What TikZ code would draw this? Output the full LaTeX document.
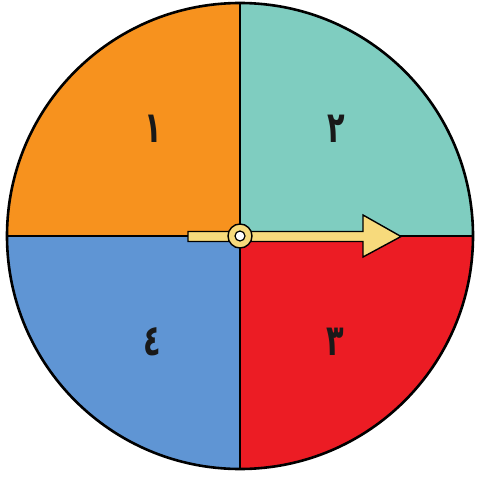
\documentclass[tikz,border=0pt]{standalone}
\usepackage{fontspec}
\usepackage{graphicx}
\usetikzlibrary{calc}
\newfontfamily\arabicfont[Script=Arabic]{DejaVu Sans}
\TeXXeTstate=1
\definecolor{qorange}{HTML}{F7921E}
\definecolor{qteal}{HTML}{7FCDC0}
\definecolor{qblue}{HTML}{5F95D4}
\definecolor{qred}{HTML}{EC1C24}
\definecolor{qyellow}{HTML}{F7DA7C}
\newcommand{\qdigit}[1]{\scalebox{0.8}[1.2]{\beginR #1\endR}}
\tikzset{
  digit/.style={font=\arabicfont\bfseries\fontsize{36}{36}\selectfont, text=black!90, inner sep=0pt},
  rim/.style={draw=black, line width=2.6pt},
  divider/.style={draw=black, line width=1.8pt}
}
\begin{document}
\begin{tikzpicture}[x=1pt,y=-1pt]
\useasboundingbox (0,0) rectangle (476,484);
\coordinate (c) at (240,236);
\def\R{233}
% quadrants (y axis points down, so angles run clockwise)
\fill[qorange] (c) -- ++(-\R,0) arc[start angle=180,end angle=270,radius=\R] -- cycle;
\fill[qteal] (c) -- ++(0,-\R) arc[start angle=270,end angle=360,radius=\R] -- cycle;
\fill[qred] (c) -- ++(\R,0) arc[start angle=0,end angle=90,radius=\R] -- cycle;
\fill[qblue] (c) -- ++(0,\R) arc[start angle=90,end angle=180,radius=\R] -- cycle;
% dividers
\draw[divider] ($(c)+(-\R,0)$) -- ($(c)+(\R,0)$);
\draw[divider] ($(c)+(0,-\R)$) -- ($(c)+(0,\R)$);
\draw[rim] (c) circle[radius=\R];
% digits
\node[digit] (d1) at (153,129) {\qdigit{١}};
\node[digit] (d2) at (336,129) {\qdigit{٢}};
\node[digit] (d4) at (152,342) {\qdigit{٤}};
\node[digit] (d3) at (335,342) {\qdigit{٣}};
% pointer
\draw[fill=qyellow, draw=black, line width=1.4pt, line join=miter]
  (188,231.5) -- (363,231.5) -- (363,215) -- (401,236.5) -- (363,257) -- (363,241.5) -- (188,241.5) -- cycle;
\draw[fill=qyellow, draw=black, line width=1.4pt] (c) circle[radius=12];
\draw[fill=white, draw=black, line width=1.2pt] (c) circle[radius=5];
\end{tikzpicture}
\end{document}
